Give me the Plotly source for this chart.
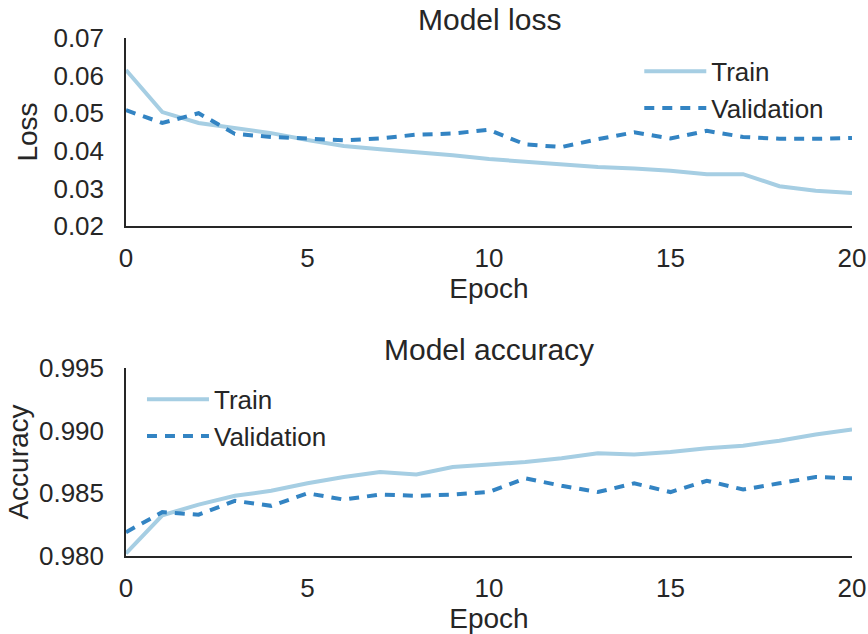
import plotly.graph_objects as go
from plotly.subplots import make_subplots

epochs = list(range(21))
train_loss = [0.0615, 0.0503, 0.0474, 0.0460, 0.0447, 0.0429, 0.0413, 0.0404, 0.0397, 0.0388,
              0.0378, 0.0371, 0.0364, 0.0357, 0.0353, 0.0347, 0.0338, 0.0338, 0.0306, 0.0294, 0.0288]
val_loss = [0.0508, 0.0474, 0.0500, 0.0445, 0.0437, 0.0433, 0.0428, 0.0433, 0.0443, 0.0446,
            0.0456, 0.0417, 0.0410, 0.0431, 0.0449, 0.0433, 0.0453, 0.0437, 0.0432, 0.0432, 0.0434]
train_acc = [0.9802, 0.98325, 0.9841, 0.9848, 0.9852, 0.9858, 0.9863, 0.9867, 0.9865, 0.9871,
             0.9873, 0.9875, 0.9878, 0.9882, 0.9881, 0.9883, 0.9886, 0.9888, 0.9892, 0.9897, 0.9901]
val_acc = [0.9819, 0.9835, 0.9833, 0.9844, 0.9840, 0.9850, 0.9845, 0.9849, 0.9848, 0.9849,
           0.9851, 0.9862, 0.9856, 0.9851, 0.9858, 0.9851, 0.9860, 0.9853, 0.9858, 0.9863, 0.9862]

TRAIN_C = "#a6cee3"
VAL_C = "#3384c3"
TXT = "#262626"
FONT = "Liberation Sans, Arial, sans-serif"

fig = make_subplots(rows=2, cols=1, vertical_spacing=0.274)

fig.add_trace(go.Scatter(x=epochs, y=train_loss, mode="lines", name="Train",
                         line=dict(color=TRAIN_C, width=4), legend="legend"), row=1, col=1)
fig.add_trace(go.Scatter(x=epochs, y=val_loss, mode="lines", name="Validation",
                         line=dict(color=VAL_C, width=4, dash="10px,8px"), legend="legend"), row=1, col=1)
fig.add_trace(go.Scatter(x=epochs, y=train_acc, mode="lines", name="Train",
                         line=dict(color=TRAIN_C, width=4), legend="legend2"), row=2, col=1)
fig.add_trace(go.Scatter(x=epochs, y=val_acc, mode="lines", name="Validation",
                         line=dict(color=VAL_C, width=4, dash="10px,8px"), legend="legend2"), row=2, col=1)

axis_common = dict(showline=True, linecolor=TXT, linewidth=1.5, showgrid=False, zeroline=False,
                   ticks="outside", tickcolor="rgba(0,0,0,0)", automargin=False,
                   tickfont=dict(size=26, color=TXT, family=FONT), mirror=False)

for r in (1, 2):
    fig.update_xaxes(range=[0, 20], tickvals=[0, 5, 10, 15, 20], ticklen=8,
                     title=dict(text="Epoch", font=dict(size=28, color=TXT, family=FONT), standoff=4),
                     row=r, col=1, **axis_common)

fig.update_yaxes(range=[0.02, 0.07], tickvals=[0.02, 0.03, 0.04, 0.05, 0.06, 0.07], tickformat=".2f",
                 ticklen=15, title=dict(text="Loss", font=dict(size=28, color=TXT, family=FONT), standoff=8),
                 row=1, col=1, **axis_common)
fig.update_yaxes(range=[0.980, 0.995], tickvals=[0.980, 0.985, 0.990, 0.995], tickformat=".3f",
                 ticklen=15, title=dict(text="Accuracy", font=dict(size=28, color=TXT, family=FONT), standoff=2),
                 row=2, col=1, **axis_common)

fig.update_layout(
    width=868, height=634,
    margin=dict(l=126, r=16, t=38, b=78),
    plot_bgcolor="white", paper_bgcolor="white",
    font=dict(family=FONT, color=TXT),
    legend=dict(x=0.707, y=0.981, xanchor="left", yanchor="top", bgcolor="rgba(0,0,0,0)",
                font=dict(size=26, color=TXT, family=FONT), tracegroupgap=0, itemwidth=62),
    legend2=dict(x=0.022, y=0.348, xanchor="left", yanchor="top", bgcolor="rgba(0,0,0,0)",
                 font=dict(size=26, color=TXT, family=FONT), tracegroupgap=0, itemwidth=62),
    annotations=[
        dict(text="Model loss", x=0.5, y=1.0, xref="paper", yref="paper", xanchor="center",
             yanchor="bottom", yshift=0, showarrow=False, font=dict(size=30, color=TXT, family=FONT)),
        dict(text="Model accuracy", x=0.5, y=0.363, xref="paper", yref="paper", xanchor="center",
             yanchor="bottom", yshift=0, showarrow=False, font=dict(size=30, color=TXT, family=FONT)),
    ],
)

fig.write_html("out.html")
